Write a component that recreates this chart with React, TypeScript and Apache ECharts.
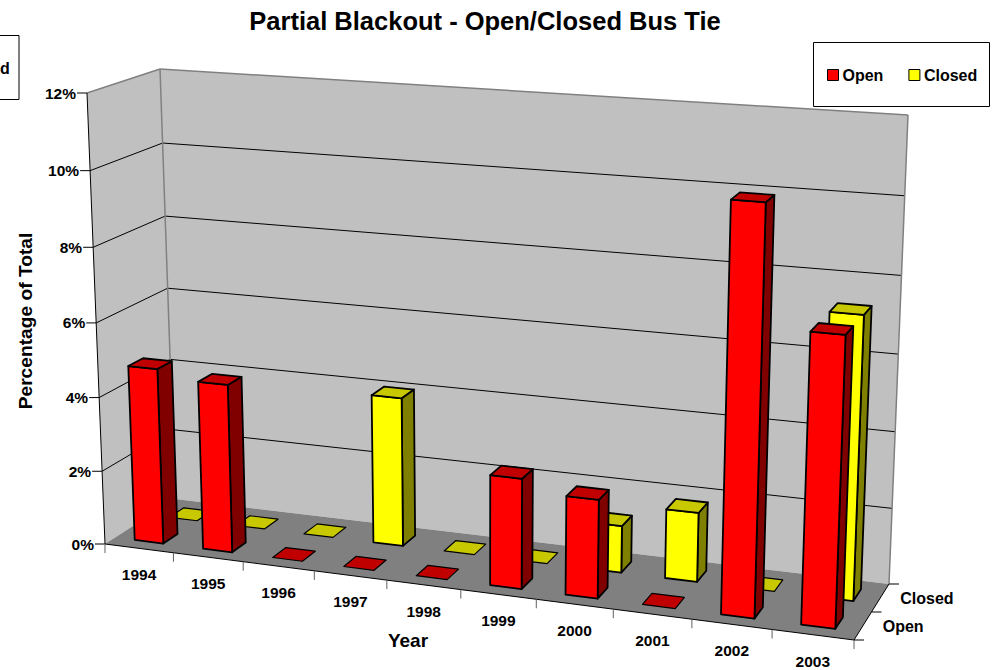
import React, { useEffect, useRef } from "react";
import * as echarts from "echarts";

const W = 993;
const H = 670;
const FONT = '"Liberation Sans", Arial, sans-serif';

const titleText = "Partial Blackout - Open/Closed Bus Tie";
const years = ["1994", "1995", "1996", "1997", "1998", "1999", "2000", "2001", "2002", "2003"];
const openValues = [4.76, 4.53, 0, 0, 0, 2.9, 2.58, 0, 10.4, 7.35];
const closedValues = [0, 0, 0, 4.03, 0, 0, 1.25, 1.83, 0, 7.33];
const percentTicks = [0, 2, 4, 6, 8, 10, 12];
const depthNames = ["Open", "Closed"];

type P = [number, number];
const corners: Record<string, P> = {
  c000: [105, 544],
  c100: [854, 640],
  c001: [175, 499],
  c101: [889, 584],
  c010: [87, 93],
  c110: [872, 148],
  c011: [160, 69],
  c111: [908, 115],
};

const persp = (t: number, w: number) => t / (w + (1 - w) * t);
const lerp = (a: P, b: P, t: number): P => [a[0] + (b[0] - a[0]) * t, a[1] + (b[1] - a[1]) * t];

// Scale positions come from the hidden cartesian axes; the box projection turns them into the 3D view.
function project(api: any, a: number, v: number, z: number): P {
  const c = api.coord([a, v]);
  const t = persp(c[0] / W, 1.105);
  const u = persp(1 - c[1] / H, 1.04);
  const d = z / 2;
  const bottom = lerp(lerp(corners.c000, corners.c100, t), lerp(corners.c001, corners.c101, t), d);
  const top = lerp(lerp(corners.c010, corners.c110, t), lerp(corners.c011, corners.c111, t), d);
  return lerp(bottom, top, u);
}

const poly = (points: P[], fill: string, stroke: string, lineWidth: number) => ({
  type: "polygon",
  shape: { points },
  style: { fill, stroke, lineWidth, lineJoin: "round" },
});
const seg = (a: P, b: P, stroke: string, lineWidth = 1) => ({
  type: "line",
  shape: { x1: a[0], y1: a[1], x2: b[0], y2: b[1] },
  style: { stroke, lineWidth },
});
const label = (x: number, y: number, text: string, align: string, size: number) => ({
  type: "text",
  x,
  y,
  style: { text, x: 0, y: 0, fill: "#000", align, verticalAlign: "middle", font: `bold ${size}px ${FONT}` },
});

const renderFrame = (_: any, api: any) => {
  const p = (a: number, v: number, z: number) => project(api, a, v, z);
  const children: any[] = [
    poly([p(0, 0, 0), p(0, 12, 0), p(0, 12, 2), p(0, 0, 2)], "#C0C0C0", "none", 0),
    poly([p(0, 0, 2), p(0, 12, 2), p(10, 12, 2), p(10, 0, 2)], "#C0C0C0", "none", 0),
    poly([p(0, 0, 0), p(10, 0, 0), p(10, 0, 2), p(0, 0, 2)], "#808080", "none", 0),
  ];
  percentTicks.forEach((v) => {
    if (v > 0 && v < 12) {
      children.push(seg(p(0, v, 0), p(0, v, 2), "#000"));
      children.push(seg(p(0, v, 2), p(10, v, 2), "#000"));
    }
  });
  children.push(seg(p(0, 12, 0), p(0, 12, 2), "#808080", 1.5));
  children.push(seg(p(0, 12, 2), p(10, 12, 2), "#808080", 1.5));
  children.push(seg(p(0, 12, 2), p(0, 0, 2), "#808080", 1.5));
  children.push(seg(p(10, 12, 2), p(10, 0, 2), "#808080", 1.5));
  children.push(seg(p(0, 0, 0), p(0, 12, 0), "#000", 1));
  children.push(seg(p(0, 0, 0), p(10, 0, 0), "#000", 1));
  children.push(seg(p(10, 0, 0), p(10, 0, 2), "#000", 1));
  return { type: "group", children };
};

const renderLabels = (_: any, api: any) => {
  const p = (a: number, v: number, z: number) => project(api, a, v, z);
  const children: any[] = [];
  percentTicks.forEach((v) => {
    const q = p(0, v, 0);
    children.push(seg(q, [q[0] - 10, q[1]], "#000"));
    children.push(label(q[0] - 11, q[1], `${v}%`, "right", 15.5));
  });
  for (let i = 0; i <= years.length; i++) {
    const q = p(i, 0, 0);
    children.push(seg(q, [q[0], q[1] + 9], "#606060", 1));
  }
  years.forEach((y, i) => {
    const q = p(i + 0.5, 0, 0);
    children.push(label(q[0], q[1] + 26.5, y, "center", 15.5));
  });
  [0, 1, 2].forEach((z) => {
    const q = p(10, 0, z);
    children.push(seg(q, [q[0] + 10, q[1]], "#000"));
  });
  depthNames.forEach((name, s) => {
    const q = p(10, 0, s + 0.5);
    children.push(label(q[0] + 20, q[1] + 0.5, name, "left", 16));
  });
  return { type: "group", children };
};

const makeBarRenderer = (depth: number, front: string, side: string, top: string) => (_: any, api: any) => {
  const i = api.value(0);
  const v = api.value(1);
  const a0 = i + 0.29;
  const a1 = i + 0.71;
  const z0 = depth + 0.29;
  const z1 = depth + 0.71;
  const p = (a: number, val: number, z: number) => project(api, a, val, z);
  const children: any[] = [];
  if (v > 0) {
    children.push(poly([p(a1, 0, z0), p(a1, 0, z1), p(a1, v, z1), p(a1, v, z0)], side, "#000", 1.8));
    children.push(poly([p(a0, 0, z0), p(a1, 0, z0), p(a1, v, z0), p(a0, v, z0)], front, "#000", 1.8));
  }
  children.push(poly([p(a0, v, z0), p(a1, v, z0), p(a1, v, z1), p(a0, v, z1)], top, "#000", v > 0 ? 1.8 : 1.2));
  return { type: "group", children };
};

export default function App() {
  const ref = useRef<HTMLDivElement>(null);
  useEffect(() => {
    document.body.style.margin = "0";
    const chart = echarts.init(ref.current!, undefined, { renderer: "svg" });
    chart.setOption({
      animation: false,
      backgroundColor: "#fff",
      title: {
        text: titleText,
        left: 480,
        top: 3,
        textAlign: "center",
        textStyle: { fontFamily: FONT, fontWeight: "bold", fontSize: 25.5, color: "#000" },
      },
      grid: { left: 0, right: 0, top: 0, bottom: 0 },
      xAxis: { type: "value", min: 0, max: 10, interval: 1, show: false },
      yAxis: { type: "value", min: 0, max: 12, interval: 2, show: false },
      legend: {
        data: [
          { name: "Open", icon: "rect", itemStyle: { color: "#FF0000", borderColor: "#000", borderWidth: 1 } },
          { name: "Closed", icon: "rect", itemStyle: { color: "#FFFF00", borderColor: "#000", borderWidth: 1 } },
        ],
        left: 822,
        top: 62,
        orient: "horizontal",
        itemWidth: 11,
        itemHeight: 11,
        itemGap: 25,
        selectedMode: false,
        textStyle: { fontFamily: FONT, fontWeight: "bold", fontSize: 16, color: "#000", padding: [0, 0, 0, -1] },
      },
      graphic: [
        { type: "rect", shape: { x: 813.5, y: 42.5, width: 176, height: 64 }, style: { fill: "#fff", stroke: "#000", lineWidth: 1 }, z: 1 },
        { type: "rect", shape: { x: -10, y: 35.5, width: 29, height: 64 }, style: { fill: "#fff", stroke: "#000", lineWidth: 1 } },
        { type: "text", x: 0, y: 68, style: { text: "d", fill: "#000", font: `bold 16px ${FONT}`, align: "left", verticalAlign: "middle" } },
        { type: "text", x: 25, y: 321, rotation: Math.PI / 2, style: { text: "Percentage of Total", fill: "#000", font: `bold 19.2px ${FONT}`, align: "center", verticalAlign: "middle" } },
        { type: "text", x: 408, y: 640, style: { text: "Year", fill: "#000", font: `bold 19px ${FONT}`, align: "center", verticalAlign: "middle" } },
      ],
      series: [
        { type: "custom", name: "frame", silent: true, clip: false, z: 1, data: [[0, 0]], renderItem: renderFrame },
        { type: "custom", name: "Closed", silent: true, clip: false, z: 2, itemStyle: { color: "#FFFF00" }, data: closedValues.map((v, i) => [i, v]), renderItem: makeBarRenderer(1, "#FFFF00", "#808000", "#C8C800") },
        { type: "custom", name: "Open", silent: true, clip: false, z: 3, itemStyle: { color: "#FF0000" }, data: openValues.map((v, i) => [i, v]), renderItem: makeBarRenderer(0, "#FF0000", "#800000", "#C00000") },
        { type: "custom", name: "labels", silent: true, clip: false, z: 4, data: [[0, 0]], renderItem: renderLabels },
      ],
    });
    return () => chart.dispose();
  }, []);
  return <div ref={ref} style={{ width: W, height: H, overflow: "hidden" }} />;
}
